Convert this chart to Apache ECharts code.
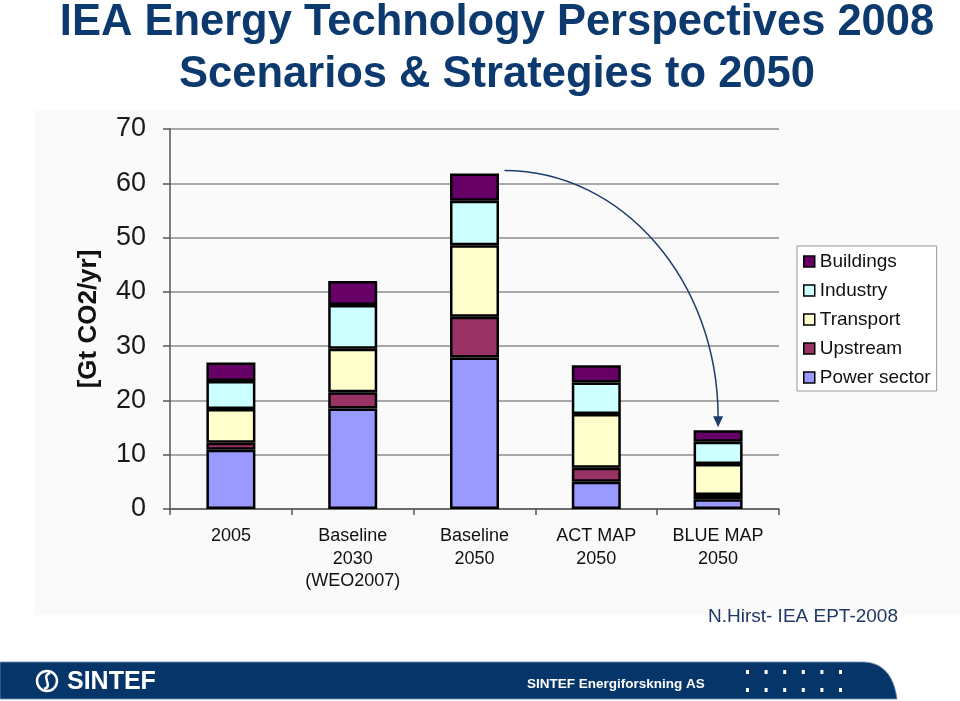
<!DOCTYPE html>
<html><head><meta charset="utf-8">
<script src="https://cdn.jsdelivr.net/npm/echarts@6/dist/echarts.min.js"></script>
<style>html,body{margin:0;padding:0;background:#fff}#c{width:960px;height:701px}</style>
</head><body><div id="c"></div>
<script>
// ---- data ----
const categories = ['2005', 'Baseline\n2030\n(WEO2007)', 'Baseline\n2050', 'ACT MAP\n2050', 'BLUE MAP\n2050'];
const seriesNames = ['Power sector', 'Upstream', 'Transport', 'Industry', 'Buildings'];
const powerSector = [10.9, 18.5, 27.9, 5.0, 1.8];
const upstream    = [1.3, 3.0, 7.5, 2.6, 0.8];
const transport   = [6.2, 8.0, 13.2, 9.9, 5.7];
const industry    = [5.2, 8.1, 8.2, 5.8, 4.1];
const buildings   = [3.4, 4.4, 5.0, 3.2, 2.1];
const legendOrder = ['Buildings', 'Industry', 'Transport', 'Upstream', 'Power sector'];
const yMin = 0, yMax = 70, yInterval = 10;
const titleLine1 = 'IEA Energy Technology Perspectives 2008';
const titleLine2 = 'Scenarios & Strategies to 2050';
const yAxisTitle = '[Gt CO2/yr]';
const credit = 'N.Hirst- IEA EPT-2008';
const footerLogo = 'SINTEF';
const footerText = 'SINTEF Energiforskning AS';

// ---- styling ----
const FONT = '"Liberation Sans", Arial, sans-serif';
const colors = {
  'Power sector': '#9999FF',
  'Upstream': '#993366',
  'Transport': '#FFFFCC',
  'Industry': '#CCFFFF',
  'Buildings': '#660066'
};
const values = [powerSector, upstream, transport, industry, buildings];
const NAVY = '#0c3a6f';

const chart = echarts.init(document.getElementById('c'), null, {renderer: 'canvas'});

const baseOption = {
  animation: false,
  backgroundColor: '#ffffff',
  textStyle: {fontFamily: FONT},
  grid: {left: 170, right: 181, top: 129, bottom: 192, containLabel: false},
  legend: {
    orient: 'vertical', left: 797, top: 246,
    data: legendOrder, icon: 'rect', itemWidth: 11, itemHeight: 11, itemGap: 10,
    selectedMode: false,
    padding: [6, 6, 4, 6],
    borderColor: '#999', borderWidth: 1, backgroundColor: '#fff',
    itemStyle: {borderColor: '#000', borderWidth: 1.5},
    textStyle: {fontSize: 19, lineHeight: 19, color: '#111', fontFamily: FONT}
  },
  xAxis: {
    type: 'category', data: categories,
    axisLine: {lineStyle: {color: '#555', width: 1.5}},
    axisTick: {show: true, length: 6, lineStyle: {color: '#555', width: 1.5}},
    axisLabel: {interval: 0, fontSize: 18, lineHeight: 22.5, color: '#111', margin: 16, fontFamily: FONT}
  },
  yAxis: {
    type: 'value', min: yMin, max: yMax, interval: yInterval,
    name: yAxisTitle, nameLocation: 'middle', nameGap: 68,
    nameTextStyle: {fontSize: 26, fontWeight: 'bold', color: '#111', fontFamily: FONT},
    axisLine: {show: true, lineStyle: {color: '#555', width: 1.5}},
    axisTick: {show: true, length: 7, lineStyle: {color: '#555', width: 1.5}},
    axisLabel: {fontSize: 27, color: '#1a1a1a', margin: 24, fontFamily: FONT},
    splitLine: {lineStyle: {color: '#8c8c8c', width: 1.5}}
  },
  series: seriesNames.map((n, i) => ({
    name: n, type: 'bar', stack: 'total', barWidth: 49,
    data: values[i],
    itemStyle: {color: colors[n], borderColor: '#000', borderWidth: 2.5},
    emphasis: {disabled: true}
  }))
};
chart.setOption(baseOption);

// totals computed from the data
const totals = categories.map((_, j) => values.reduce((s, arr) => s + arr[j], 0));
const p0 = chart.convertToPixel({xAxisIndex: 0, yAxisIndex: 0}, [2, totals[2]]);
const p1 = chart.convertToPixel({xAxisIndex: 0, yAxisIndex: 0}, [4, totals[4]]);
const sx = p0[0] + 30, sy = p0[1] - 3;
const tipY = p1[1] - 3, ex = p1[0], ey = tipY - 10;
const k = 0.552;

// footer band outline (decorative), curved right end
const bandPts = [[0, 662], [862, 662]];
for (let i = 1; i <= 12; i++) {
  const t = i / 12;
  const x = (1 - t) * (1 - t) * 862 + 2 * (1 - t) * t * 892 + t * t * 897;
  const y = (1 - t) * (1 - t) * 662 + 2 * (1 - t) * t * 662 + t * t * 699;
  bandPts.push([x, y]);
}
bandPts.push([0, 699]);

const footerDots = [];
for (let r = 0; r < 2; r++) for (let c = 0; c < 6; c++) {
  footerDots.push({type: 'rect', shape: {x: 746 + c * 18.6, y: 670 + r * 18, width: 3, height: 4}, style: {fill: '#fff'}, z: 10});
}

chart.setOption({
  graphic: [
    {type: 'rect', id: 'panel', z: -100, shape: {x: 35, y: 110, width: 925, height: 505}, style: {fill: '#fafafa'}},
    {type: 'text', id: 't1', z: 10, style: {text: titleLine1, x: 497, y: 23, fill: NAVY, font: 'bold 43.5px ' + FONT, textAlign: 'center', textVerticalAlign: 'middle'}},
    {type: 'text', id: 't2', z: 10, style: {text: titleLine2, x: 497, y: 75, fill: NAVY, font: 'bold 43.5px ' + FONT, textAlign: 'center', textVerticalAlign: 'middle'}},
    {type: 'bezierCurve', id: 'arrow', z: 20, shape: {x1: sx, y1: sy, cpx1: sx + k * (ex - sx), cpy1: sy, cpx2: ex, cpy2: ey - k * (ey - sy), x2: ex, y2: ey},
      style: {stroke: '#1d3d6b', lineWidth: 1.5, fill: null}},
    {type: 'polygon', id: 'arrowHead', z: 20, shape: {points: [[ex - 5, ey - 1], [ex + 5, ey - 1], [ex, tipY]]}, style: {fill: '#1d3d6b'}},
    {type: 'text', id: 'credit', z: 10, style: {text: credit, x: 898, y: 617, fill: '#1f3864', font: '19px ' + FONT, textAlign: 'right', textVerticalAlign: 'middle'}},
    {type: 'polygon', id: 'band', z: 5, shape: {points: bandPts}, style: {fill: '#06356a', stroke: '#6f8fb5', lineWidth: 0.8}},
    {type: 'circle', id: 'logoRing', z: 10, shape: {cx: 47, cy: 681, r: 10}, style: {fill: 'none', stroke: '#fff', lineWidth: 2.5}},
    {type: 'bezierCurve', id: 'logoS', z: 10, shape: {x1: 50, y1: 673, cpx1: 40, cpy1: 676, cpx2: 54, cpy2: 686, x2: 44, y2: 689}, style: {fill: null, stroke: '#fff', lineWidth: 2.5}},
    {type: 'text', id: 'logoText', z: 10, style: {text: footerLogo, x: 67, y: 682, fill: '#fff', font: 'bold 25px ' + FONT, textVerticalAlign: 'middle'}},
    {type: 'text', id: 'footText', z: 10, style: {text: footerText, x: 527, y: 684, fill: '#fff', font: 'bold 13.5px ' + FONT, textVerticalAlign: 'middle'}}
  ].concat(footerDots.map((d, i) => Object.assign({id: 'dot' + i}, d)))
});
</script>
</body></html>
